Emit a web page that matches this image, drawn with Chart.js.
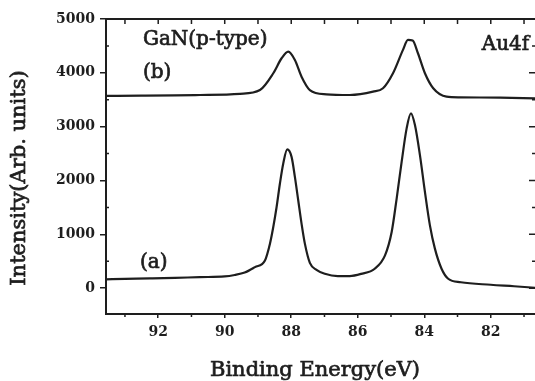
<!DOCTYPE html>
<html>
<head>
<meta charset="utf-8">
<script src="https://cdn.jsdelivr.net/npm/chart.js@4"></script>
<style>
  body { margin: 0; background: #fff; }
  #chart { display: block; }
</style>
</head>
<body>
<canvas id="chart" width="535" height="381"></canvas>
<script>
// spectrum (a): lower curve
const energyA = [93.57, 93.0, 92.25, 91.5, 90.75, 90.0, 89.7, 89.4, 89.09, 88.79, 88.64, 88.54, 88.44, 88.34, 88.24, 88.12,
  87.99, 87.89, 87.79, 87.69, 87.59, 87.44, 87.24, 86.99, 86.6, 86.24, 85.9, 85.49, 85.18, 84.98, 84.83, 84.68, 84.53,
  84.40, 84.28, 84.13, 83.98, 83.83, 83.68, 83.48, 83.28, 82.9, 82.0, 81.3, 80.67];
const intensityA = [165, 172, 180, 190, 205, 218, 245, 290, 391, 516, 827, 1136, 1508, 1944, 2316, 2577,
  2439, 2067, 1633, 1199, 827, 470, 340, 268, 225, 225, 265, 361, 609, 1043, 1665, 2346, 2968,
  3247, 3029, 2471, 1788, 1167, 734, 361, 175, 110, 63, 35, 7];

// spectrum (b): upper curve
const energyB = [93.57, 92.5, 91.5, 90.74, 89.54, 88.94, 88.54, 88.29, 88.09, 87.89, 87.69, 87.44, 86.94, 86.24, 85.54,
  85.24, 84.94, 84.64, 84.49, 84.35, 84.19, 83.98, 83.73, 83.33, 82.93, 81.72, 80.67];
const intensityB = [3572, 3575, 3580, 3588, 3610, 3681, 3992, 4271, 4394, 4240, 3929, 3681, 3601, 3588, 3650,
  3713, 3992, 4426, 4612, 4599, 4364, 3992, 3713, 3557, 3545, 3538, 3527];

const xTicks = [92, 90, 88, 86, 84, 82];
const xMinor = [93, 91, 89, 87, 85, 83, 81];
const yTicks = [0, 1000, 2000, 3000, 4000, 5000];
const yMinor = [500, 1500, 2500, 3500, 4500];

const ink = '#1e1e1e';
const serif = '"DejaVu Serif", "Liberation Serif", serif';

function pts(xs, ys) {
  return xs.map((x, i) => ({ x: x, y: ys[i] }));
}

// regular serif with a thin outline, a bit heavier like the printed figure
function label(ctx, text, px, py) {
  ctx.fillText(text, px, py);
  ctx.strokeText(text, px, py);
}

// frame: top line, inward minor ticks, right-side ticks, axis titles and the in-plot labels
const frame = {
  id: 'frame',
  afterDraw(chart) {
    const { ctx, chartArea: a, scales: { x, y } } = chart;
    ctx.save();
    ctx.strokeStyle = ink;
    ctx.lineWidth = 2;
    ctx.beginPath();
    ctx.moveTo(a.left, a.top);
    ctx.lineTo(a.right, a.top);
    ctx.stroke();

    ctx.lineWidth = 1.5;
    ctx.beginPath();
    xTicks.concat(xMinor).forEach(v => {
      const px = x.getPixelForValue(v);
      ctx.moveTo(px, a.top);
      ctx.lineTo(px, a.top + 5);
    });
    xMinor.forEach(v => {
      const px = x.getPixelForValue(v);
      ctx.moveTo(px, a.bottom);
      ctx.lineTo(px, a.bottom + 3);
    });
    yMinor.forEach(v => {
      const py = y.getPixelForValue(v);
      ctx.moveTo(a.left, py);
      ctx.lineTo(a.left + 3, py);
      ctx.moveTo(a.right, py);
      ctx.lineTo(a.right - 3, py);
    });
    yTicks.forEach(v => {
      const py = y.getPixelForValue(v);
      ctx.moveTo(a.right, py);
      ctx.lineTo(a.right - 6, py);
    });
    ctx.stroke();

    ctx.fillStyle = ink;
    ctx.lineWidth = 0.7;
    ctx.textBaseline = 'middle';
    ctx.textAlign = 'left';
    ctx.font = '20px ' + serif;
    label(ctx, 'GaN(p-type)', x.getPixelForValue(92.46), y.getPixelForValue(4612));
    label(ctx, '(b)', x.getPixelForValue(92.46), y.getPixelForValue(4000));
    label(ctx, '(a)', x.getPixelForValue(92.55), y.getPixelForValue(478));
    label(ctx, 'Au4f', x.getPixelForValue(82.27), y.getPixelForValue(4519));

    ctx.font = '21px ' + serif;
    ctx.textAlign = 'center';
    label(ctx, 'Binding Energy(eV)', 315, 371);
    ctx.translate(20, 178);
    ctx.rotate(-Math.PI / 2);
    label(ctx, 'Intensity(Arb. units)', 0, 0);
    ctx.restore();
  }
};

new Chart(document.getElementById('chart'), {
  type: 'line',
  data: {
    datasets: [
      {
        data: pts(energyA, intensityA),
        borderColor: ink,
        borderWidth: 2.2,
        pointRadius: 0,
        cubicInterpolationMode: 'monotone'
      },
      {
        data: pts(energyB, intensityB),
        borderColor: ink,
        borderWidth: 2.2,
        pointRadius: 0,
        cubicInterpolationMode: 'monotone'
      }
    ]
  },
  options: {
    responsive: false,
    animation: false,
    layout: { padding: { top: 19, right: 0, left: 0, bottom: 0 } },
    plugins: { legend: { display: false }, tooltip: { enabled: false } },
    scales: {
      x: {
        type: 'linear',
        reverse: true,
        min: 80.67,
        max: 93.57,
        afterBuildTicks: s => { s.ticks = xTicks.map(v => ({ value: v })); },
        afterFit: s => { s.height = 67; },
        border: { color: ink, width: 2 },
        grid: { drawOnChartArea: false, tickLength: 4, color: ink, lineWidth: 1.5 },
        ticks: { color: ink, padding: 6, font: { family: serif, size: 14, weight: 'bold' } }
      },
      y: {
        min: -480,
        max: 5000,
        afterBuildTicks: s => { s.ticks = yTicks.map(v => ({ value: v })); },
        afterFit: s => { s.width = 106; },
        border: { color: ink, width: 2 },
        grid: { drawOnChartArea: false, tickLength: 6, color: ink, lineWidth: 1.5 },
        ticks: {
          color: ink,
          padding: 5,
          font: { family: serif, size: 14, weight: 'bold' },
          callback: v => String(v)
        }
      }
    }
  },
  plugins: [frame]
});
</script>
</body>
</html>
